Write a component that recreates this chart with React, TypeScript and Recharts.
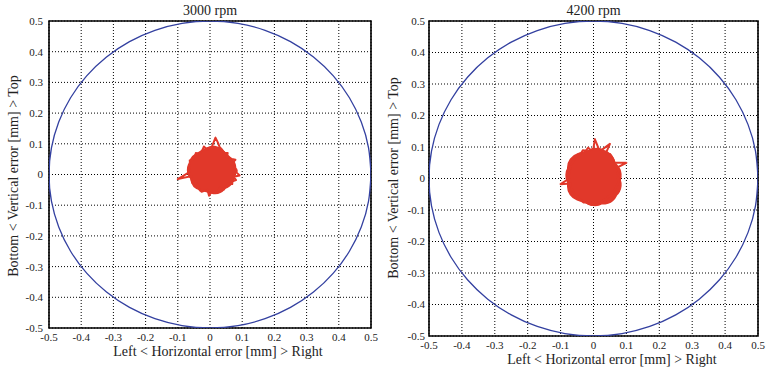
import { CartesianGrid, Line, LineChart, ReferenceArea, XAxis, YAxis } from "recharts";

// tick positions, both axes [mm]
const axisTicks = [-0.5, -0.4, -0.3, -0.2, -0.1, 0, 0.1, 0.2, 0.3, 0.4, 0.5];

// 0.5 mm tolerance circle, 10 degree steps
const circleH = [
  0.5, 0.4924, 0.4698, 0.433, 0.383, 0.3214, 0.25, 0.171, 0.0868, 0, -0.0868, -0.171, -0.25,
  -0.3214, -0.383, -0.433, -0.4698, -0.4924, -0.5, -0.4924, -0.4698, -0.433, -0.383, -0.3214,
  -0.25, -0.171, -0.0868, 0, 0.0868, 0.171, 0.25, 0.3214, 0.383, 0.433, 0.4698, 0.4924, 0.5,
];
const circleV = [
  0, 0.0868, 0.171, 0.25, 0.3214, 0.383, 0.433, 0.4698, 0.4924, 0.5, 0.4924, 0.4698, 0.433,
  0.383, 0.3214, 0.25, 0.171, 0.0868, 0, -0.0868, -0.171, -0.25, -0.3214, -0.383, -0.433,
  -0.4698, -0.4924, -0.5, -0.4924, -0.4698, -0.433, -0.383, -0.3214, -0.25, -0.171, -0.0868, 0,
];

// 3000 rpm trace: outer edge and core
const edge3000H = [
  0.084, 0.076, 0.076, 0.067, 0.079, 0.068, 0.059, 0.052, 0.055, 0.046, 0.041, 0.036, 0.03,
  0.025, 0.017, 0.006, -0.002, -0.008, -0.019, -0.023, -0.028, -0.032, -0.044, -0.046, -0.051,
  -0.051, -0.063, -0.062, -0.064, -0.062, -0.068, -0.064, -0.1, -0.057, -0.058, -0.056, -0.054,
  -0.042, -0.038, -0.035, -0.032, -0.026, -0.016, -0.008, -0.003, 0.006, 0.014, 0.022, 0.027,
  0.032, 0.043, 0.047, 0.053, 0.055, 0.069, 0.07, 0.081, 0.073, 0.092, 0.082, 0.084,
];
const edge3000V = [
  0.015, 0.022, 0.03, 0.035, 0.048, 0.051, 0.054, 0.056, 0.07, 0.07, 0.076, 0.083, 0.089, 0.103,
  0.12, 0.091, 0.087, 0.08, 0.091, 0.081, 0.074, 0.067, 0.07, 0.062, 0.056, 0.048, 0.046, 0.037,
  0.03, 0.022, 0.015, 0.008, -0.015, -0.005, -0.013, -0.021, -0.028, -0.028, -0.034, -0.042,
  -0.051, -0.056, -0.052, -0.05, -0.069, -0.055, -0.057, -0.059, -0.05, -0.043, -0.049, -0.042,
  -0.037, -0.029, -0.031, -0.022, -0.018, -0.007, -0.003, 0.007, 0.015,
];
const core3000H = [0.04, 0.01, -0.025, -0.02, 0.015, 0.04, 0.005, -0.03, 0.01, 0.035];
const core3000V = [0.02, 0.05, 0.03, -0.01, -0.02, 0.01, 0.015, 0.015, 0.045, -0.005];

// 4200 rpm trace: outer edge and core
const edge4200H = [
  0.08, 0.072, 0.078, 0.07, 0.1, 0.064, 0.062, 0.058, 0.05, 0.044, 0.039, 0.05, 0.024, 0.016,
  0.004, 0, -0.008, -0.016, -0.024, -0.032, -0.038, -0.046, -0.05, -0.056, -0.06, -0.066, -0.072,
  -0.07, -0.076, -0.072, -0.08, -0.074, -0.1, -0.07, -0.068, -0.066, -0.06, -0.058, -0.05, -0.044,
  -0.038, -0.03, -0.022, -0.016, -0.006, 0, 0.008, 0.016, 0.024, 0.03, 0.038, 0.044, 0.052,
  0.056, 0.062, 0.066, 0.07, 0.074, 0.078, 0.074, 0.08,
];
const edge4200V = [
  0.008, 0.017, 0.026, 0.034, 0.05, 0.05, 0.058, 0.066, 0.078, 0.078, 0.084, 0.11, 0.09, 0.094,
  0.125, 0.096, 0.09, 0.098, 0.088, 0.09, 0.08, 0.078, 0.07, 0.062, 0.058, 0.047, 0.042, 0.031,
  0.025, 0.016, 0.008, 0, -0.018, -0.016, -0.026, -0.034, -0.044, -0.052, -0.056, -0.064, -0.068,
  -0.076, -0.074, -0.08, -0.084, -0.078, -0.084, -0.076, -0.074, -0.068, -0.066, -0.058, -0.054,
  -0.046, -0.04, -0.032, -0.024, -0.016, -0.008, 0, 0.008,
];
const core4200H = [0.04, 0.01, -0.035, -0.035, 0.005, 0.04, 0, -0.04, 0.02, 0.03];
const core4200V = [0.01, 0.05, 0.035, -0.025, -0.04, -0.02, 0.008, 0.01, 0.045, -0.035];

const zip = (h: number[], v: number[]) => h.map((x, i) => ({ h: x, v: v[i] }));

const FONT = "'Liberation Serif', 'Times New Roman', serif";
const BLUE = "#3340a0";
const RED = "#e1382a";

type PanelProps = {
  title: string;
  left: number;
  plotLeft: number;
  plotRight: number;
  plotBottom: number;
  yTickGap: number;
  coreWidth: number;
  xTitleX: number;
  xTitleY: number;
  yTitleX: number;
  yTitleY: number;
  edge: { h: number; v: number }[];
  core: { h: number; v: number }[];
};

function Panel(p: PanelProps) {
  const width = 385;
  const height = 370;
  const tick = { fontSize: 11, fill: "#222", fontFamily: FONT };
  const textStyle = {
    position: "absolute" as const,
    fontFamily: FONT,
    fontSize: 14,
    color: "#222",
    whiteSpace: "nowrap" as const,
  };
  return (
    <div style={{ position: "absolute", left: p.left, top: 0, width, height, fontFamily: FONT }}>
      <LineChart
        width={width}
        height={height}
        margin={{ top: 21, right: width - p.plotRight, bottom: height - p.plotBottom - 20, left: p.plotLeft - 39 }}
      >
        <CartesianGrid stroke="#000" strokeDasharray="1 2" />
        <XAxis
          type="number"
          dataKey="h"
          domain={[-0.5, 0.5]}
          ticks={axisTicks}
          allowDataOverflow
          height={20}
          axisLine={false}
          tickLine={false}
          tickSize={0}
          tickMargin={5}
          tick={tick}
        />
        <YAxis
          type="number"
          dataKey="v"
          domain={[-0.5, 0.5]}
          ticks={axisTicks}
          allowDataOverflow
          width={39}
          axisLine={false}
          tickLine={false}
          tickSize={0}
          tickMargin={p.yTickGap}
          tick={tick}
        />
        <Line
          data={zip(circleH, circleV)}
          dataKey="v"
          type="natural"
          stroke={BLUE}
          strokeWidth={1.3}
          dot={false}
          isAnimationActive={false}
        />
        <Line
          data={p.core}
          dataKey="v"
          type="linear"
          stroke={RED}
          strokeWidth={p.coreWidth}
          strokeLinecap="round"
          strokeLinejoin="round"
          dot={false}
          isAnimationActive={false}
        />
        <Line
          data={p.edge}
          dataKey="v"
          type="linear"
          stroke={RED}
          strokeWidth={2}
          strokeLinejoin="round"
          dot={false}
          isAnimationActive={false}
        />
        <ReferenceArea x1={-0.5} x2={0.5} y1={-0.5} y2={0.5} fill="none" stroke="#000" strokeWidth={1.6} />
      </LineChart>
      <div style={{ ...textStyle, left: (p.plotLeft + p.plotRight) / 2, top: 11, transform: "translate(-50%, -50%)" }}>
        {p.title}
      </div>
      <div style={{ ...textStyle, left: p.xTitleX, top: p.xTitleY, transform: "translate(-50%, -50%)" }}>
        Left &lt; Horizontal error [mm] &gt; Right
      </div>
      <div
        style={{
          ...textStyle,
          left: p.yTitleX,
          top: p.yTitleY,
          transform: "translate(-50%, -50%) rotate(-90deg)",
        }}
      >
        Bottom &lt; Vertical error [mm] &gt; Top
      </div>
    </div>
  );
}

export default function App() {
  return (
    <div style={{ position: "absolute", left: 0, top: 0, width: 770, height: 370, background: "#fff" }}>
      <Panel
        title="3000 rpm"
        left={0}
        plotLeft={49}
        plotRight={371}
        plotBottom={328}
        yTickGap={6}
        coreWidth={27}
        xTitleX={218}
        xTitleY={352}
        yTitleX={14}
        yTitleY={176}
        edge={zip(edge3000H, edge3000V)}
        core={zip(core3000H, core3000V)}
      />
      <Panel
        title="4200 rpm"
        left={385}
        plotLeft={44}
        plotRight={373}
        plotBottom={336}
        yTickGap={4}
        coreWidth={30}
        xTitleX={227}
        xTitleY={360}
        yTitleX={9}
        yTitleY={178}
        edge={zip(edge4200H, edge4200V)}
        core={zip(core4200H, core4200V)}
      />
    </div>
  );
}
